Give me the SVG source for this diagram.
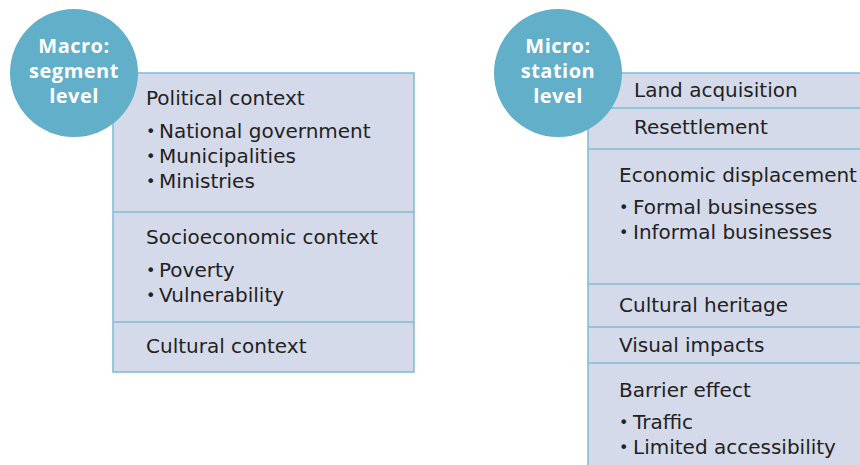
<svg xmlns="http://www.w3.org/2000/svg" width="860" height="465" viewBox="0 0 860 465">
<style>
.box{fill:#d5daea;stroke:#7fbcd2;stroke-width:1.5}
.div{stroke:#7fbcd2;stroke-width:1.5}
.circ{fill:#62afc9}
.t{font-family:"DejaVu Sans","Open Sans",sans-serif;font-size:20px;fill:#222}
.b{font-family:"DejaVu Sans","Open Sans",sans-serif;font-size:16px;fill:#222}
.c{font-family:"Open Sans","DejaVu Sans",sans-serif;font-size:20px;letter-spacing:0.5px;font-weight:bold;fill:#fff;text-anchor:middle}
</style>
<rect width="860" height="465" fill="#fff"/>
<g id="macro-box">
<rect class="box" x="113" y="73" width="301" height="299"/>
<line class="div" x1="113" y1="212" x2="414" y2="212"/>
<line class="div" x1="113" y1="322" x2="414" y2="322"/>
<text class="t" x="146" y="105">Political context</text>
<text class="b" x="146" y="137">•</text><text class="t" x="159" y="138">National government</text>
<text class="b" x="146" y="162">•</text><text class="t" x="159" y="163">Municipalities</text>
<text class="b" x="146" y="187">•</text><text class="t" x="159" y="188">Ministries</text>
<text class="t" x="146" y="244">Socioeconomic context</text>
<text class="b" x="146" y="276">•</text><text class="t" x="159" y="277">Poverty</text>
<text class="b" x="146" y="301">•</text><text class="t" x="159" y="302">Vulnerability</text>
<text class="t" x="146" y="353">Cultural context</text>
</g>
<g id="macro-circle">
<circle class="circ" cx="74" cy="73" r="64"/>
<text class="c" x="74" y="53">Macro:</text>
<text class="c" x="74" y="78">segment</text>
<text class="c" x="74" y="103">level</text>
</g>
<g id="micro-box">
<rect class="box" x="588" y="73" width="290" height="400"/>
<line class="div" x1="588" y1="108" x2="860" y2="108"/>
<line class="div" x1="588" y1="149" x2="860" y2="149"/>
<line class="div" x1="588" y1="284" x2="860" y2="284"/>
<line class="div" x1="588" y1="327" x2="860" y2="327"/>
<line class="div" x1="588" y1="363" x2="860" y2="363"/>
<text class="t" x="634" y="97">Land acquisition</text>
<text class="t" x="634" y="134">Resettlement</text>
<text class="t" x="619" y="182">Economic displacement</text>
<text class="b" x="619" y="213">•</text><text class="t" x="633" y="214">Formal businesses</text>
<text class="b" x="619" y="238">•</text><text class="t" x="633" y="239">Informal businesses</text>
<text class="t" x="619" y="312">Cultural heritage</text>
<text class="t" x="619" y="352">Visual impacts</text>
<text class="t" x="619" y="397">Barrier effect</text>
<text class="b" x="619" y="428">•</text><text class="t" x="633" y="429">Traffic</text>
<text class="b" x="619" y="453">•</text><text class="t" x="633" y="454">Limited accessibility</text>
</g>
<g id="micro-circle">
<circle class="circ" cx="558" cy="73" r="64"/>
<text class="c" x="558" y="53">Micro:</text>
<text class="c" x="558" y="78">station</text>
<text class="c" x="558" y="103">level</text>
</g>
<g id="connectors"></g>
</svg>
